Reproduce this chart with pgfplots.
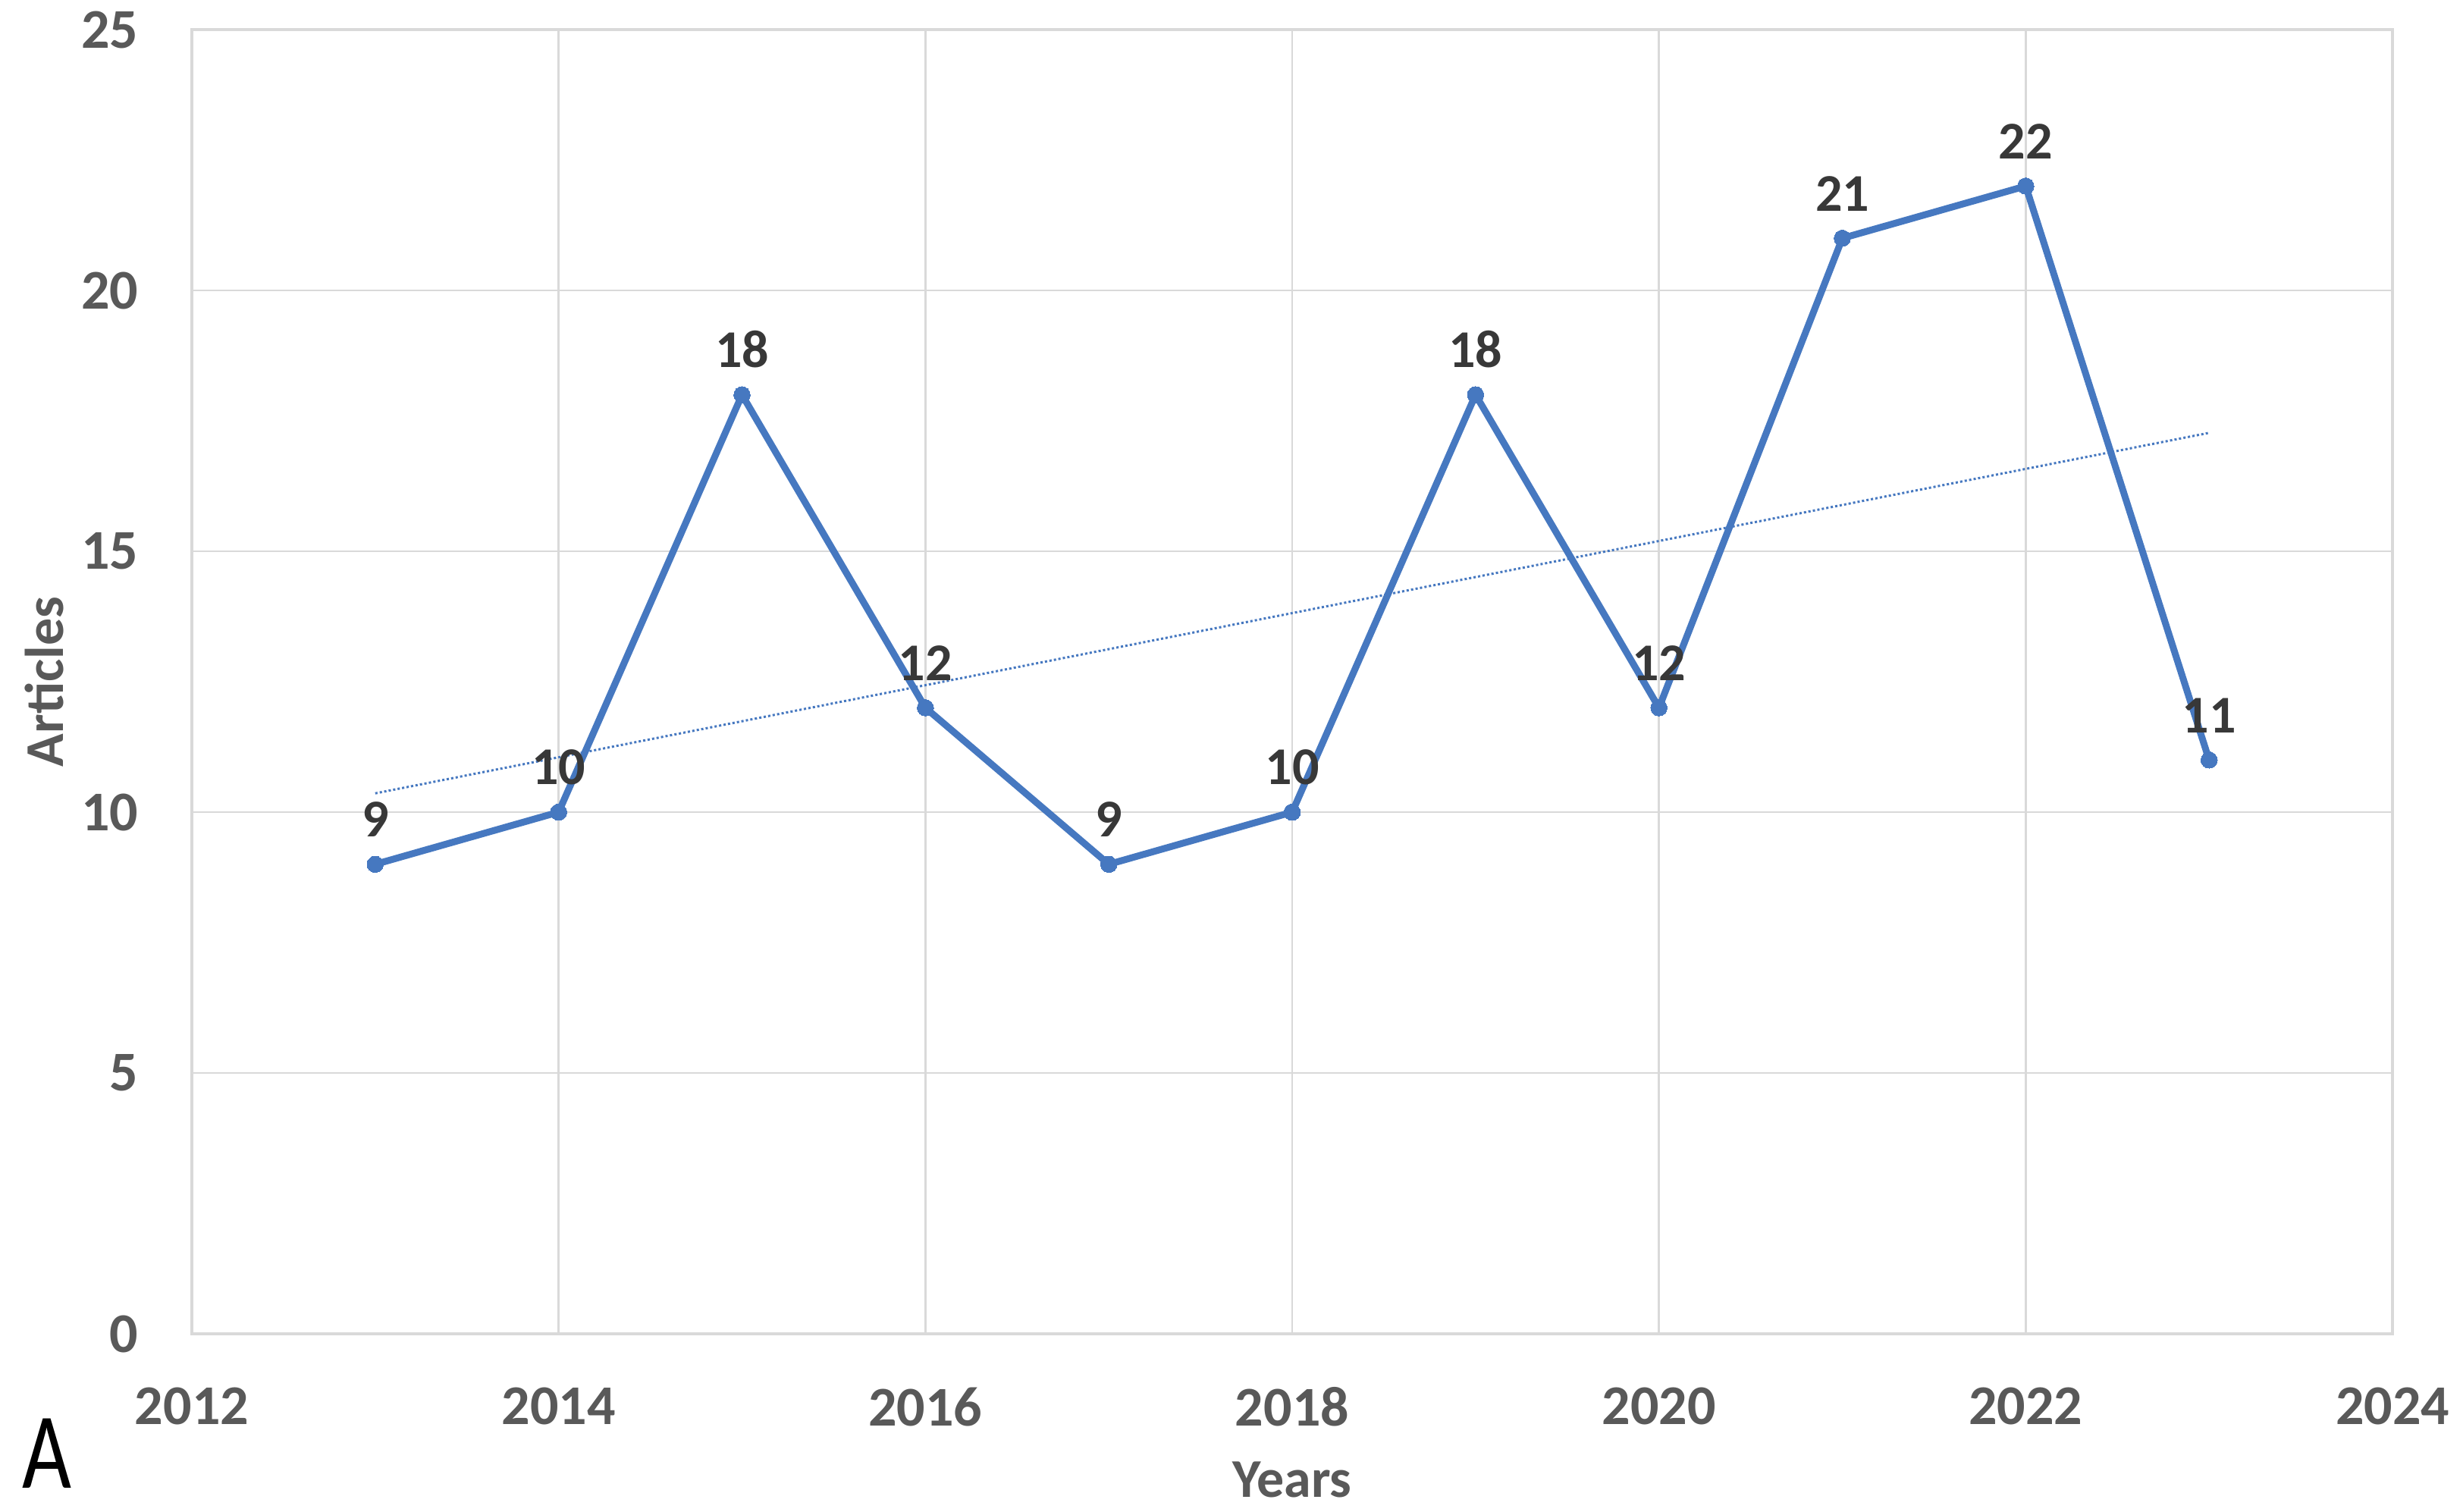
\documentclass[border=0pt]{standalone}
\usepackage{pgfplots}
\pgfplotsset{compat=1.18}
\usepackage{fontspec}
\setmainfont{Carlito}
\definecolor{lineblue}{RGB}{70,120,192}
\definecolor{tickgray}{RGB}{89,89,89}
\definecolor{labgray}{RGB}{56,56,56}
\definecolor{gridgray}{RGB}{217,217,217}
\begin{document}
\begin{tikzpicture}
\begin{axis}[
  scale only axis,
  width=725.5pt, height=430pt,
  xmin=2012, xmax=2024, ymin=0, ymax=25,
  xtick={2012,2014,...,2024},
  ytick={0,5,...,25},
  /pgf/number format/assume math mode=true,
  /pgf/number format/1000 sep={},
  grid=major,
  major grid style={gridgray, line width=0.6pt},
  axis line style={gridgray, line width=0.9pt},
  major tick length=0pt,
  tick label style={font=\fontsize{18.5}{20}\selectfont\bfseries, text=tickgray},
  yticklabel style={anchor=east, inner sep=0pt, xshift=-17.5pt},
  xticklabel style={anchor=north, inner sep=0pt, yshift=-17.5pt},
  every axis y label/.style={at={(axis description cs:0,0.5)}, xshift=-48.75pt, rotate=90, anchor=center, font=\fontsize{18}{20}\selectfont\bfseries, text=tickgray},
  every axis x label/.style={at={(axis description cs:0.5,0)}, yshift=-48pt, anchor=center, font=\fontsize{18}{20}\selectfont\bfseries, text=tickgray},
  xlabel={Years},
  ylabel={Articles},
  clip=false,
]
\addplot[lineblue, line width=0.75pt, dash pattern=on 0.75pt off 0.75pt] coordinates {(2013,10.36) (2023,17.27)};
\addplot[lineblue, line width=2.25pt, mark=*, mark size=2.7pt, mark options={fill=lineblue, draw=lineblue, line width=0pt},
  nodes near coords, every node near coord/.append style={anchor=south, inner sep=0pt, yshift=9pt, font=\fontsize{17.5}{19}\selectfont\bfseries, text=labgray}]
coordinates {(2013,9) (2014,10) (2015,18) (2016,12) (2017,9) (2018,10) (2019,18) (2020,12) (2021,21) (2022,22) (2023,11)};
\end{axis}
\path (current axis.south west) ++(-63.25pt,-58.5pt) coordinate (bl);
\path (current axis.north east) ++(23.25pt,9.75pt) coordinate (tr);
\path (bl) rectangle (tr);
\node[font=\fontsize{33}{35}\selectfont, anchor=center, inner sep=0pt, xscale=0.85, yscale=1.08] at ([xshift=-47.75pt,yshift=-39.5pt]current axis.south west) {A};
\end{tikzpicture}
\end{document}
